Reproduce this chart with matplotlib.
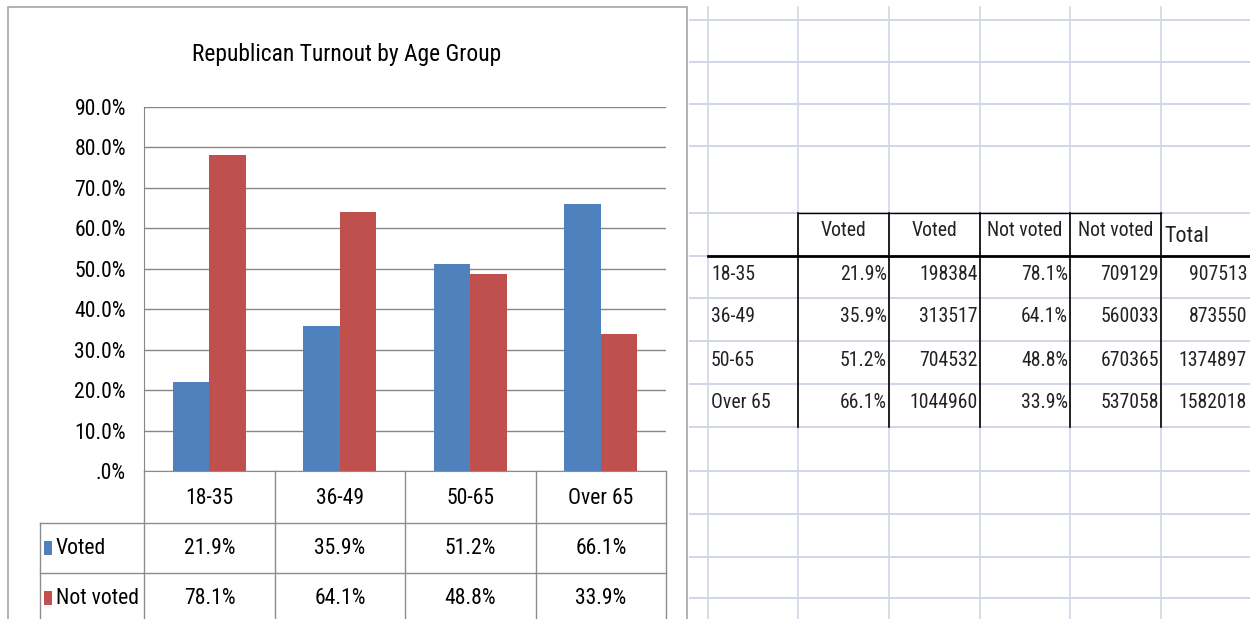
import matplotlib
matplotlib.use("Agg")
import matplotlib.pyplot as plt
from matplotlib import font_manager as fm
from matplotlib.patches import Rectangle
from matplotlib.ticker import FuncFormatter

# ---- data ----
age_groups = ["18-35", "36-49", "50-65", "Over 65"]
series_names = ["Voted", "Not voted"]
voted_pct = [21.9, 35.9, 51.2, 66.1]
not_voted_pct = [78.1, 64.1, 48.8, 33.9]
voted_count = [198384, 313517, 704532, 1044960]
not_voted_count = [709129, 560033, 670365, 537058]
total_count = [907513, 873550, 1374897, 1582018]
sheet_headers = ["Voted", "Voted", "Not voted", "Not voted"]
y_ticks = [0, 10, 20, 30, 40, 50, 60, 70, 80, 90]

BLUE = "#4F81BD"
RED = "#C0504D"
GRID = "#D0D7E5"
EDGE = "#8C8C8C"

# narrow fonts if there are any, otherwise the closest plain ones
available = {f.name for f in fm.fontManager.ttflist}
def pick(cands):
    for c in cands:
        if c in available:
            return c
    return "DejaVu Sans"

CHART_FONT = pick(["Liberation Sans Narrow", "Roboto Condensed", "Open Sans Condensed", "Lato", "Liberation Sans"])
SHEET_FONT = pick(["Liberation Sans Narrow", "Arial Narrow", "Roboto Condensed", "Liberation Sans"])
plt.rcParams["font.family"] = [CHART_FONT, "DejaVu Sans"]

W, H = 1250, 619
fig = plt.figure(figsize=(W / 100, H / 100), dpi=100)
fig.patch.set_facecolor("white")
renderer = fig.canvas.get_renderer()

def fit(sample, width_px, family):
    # font size that makes sample about width_px wide
    t = fig.text(0, 0, sample, fontsize=10, family=family)
    w = t.get_window_extent(renderer).width
    t.remove()
    return 10 * width_px / w

fs_title = fit("Republican Turnout by Age Group", 308, CHART_FONT)
fs_chart = fit("90.0%", 51, CHART_FONT)
fs_sheet = fit("1374897", 68, SHEET_FONT)

# background layer in pixel coordinates
bg = fig.add_axes([0, 0, 1, 1])
bg.set_xlim(0, W)
bg.set_ylim(H, 0)
bg.axis("off")

# spreadsheet gridlines
sheet_cols = [708, 798, 889, 980, 1070, 1161]
sheet_rows = [20, 62, 104, 146, 213, 256, 298, 341, 384, 427, 471, 514, 557, 598]
for x in sheet_cols:
    bg.plot([x, x], [7, H], color=GRID, lw=1.2, zorder=1)
for y in sheet_rows:
    bg.plot([690, W], [y, y], color=GRID, lw=1.4, zorder=1)

# spreadsheet table
tbl_top, tbl_head, tbl_bot = 213, 256, 427
bg.plot([798, 1161], [tbl_top, tbl_top], color="black", lw=1.0, zorder=2)
for x in sheet_cols[1:]:
    bg.plot([x, x], [tbl_top, tbl_bot], color="black", lw=1.2, zorder=2)
bg.plot([708, W], [tbl_head, tbl_head], color="black", lw=2.0, zorder=2)

for i, h in enumerate(sheet_headers):
    cx = (sheet_cols[i + 1] + sheet_cols[i + 2]) / 2
    bg.text(cx, 231, h, ha="center", va="center", fontsize=fs_sheet, family=SHEET_FONT, color="#222222")
bg.text(1164, 237, "Total", ha="left", va="center", fontsize=fs_sheet * 1.12, family=SHEET_FONT, color="#222222")

row_ys = [275, 317, 360, 403]
rights = sheet_cols[2:] + [W - 1]
for r, grp in enumerate(age_groups):
    y = row_ys[r]
    cells = [f"{voted_pct[r]:.1f}%", str(voted_count[r]),
             f"{not_voted_pct[r]:.1f}%", str(not_voted_count[r]),
             str(total_count[r])]
    bg.text(711, y, grp, ha="left", va="center", fontsize=fs_sheet, family=SHEET_FONT, color="#222222")
    for c, txt in enumerate(cells):
        bg.text(rights[c] - 2, y, txt, ha="right", va="center", fontsize=fs_sheet, family=SHEET_FONT, color="#222222")

# chart area box
bg.add_patch(Rectangle((8, 7), 679, H, facecolor="white", edgecolor="#A6A6A6", lw=1.2, zorder=3))
bg.text(347, 54, "Republican Turnout by Age Group", ha="center", va="center",
        fontsize=fs_title, color="black", zorder=4)

# data table under the plot
col_x = [144, 275, 405, 536, 666]
tab_rows = [471, 523, 573]
for y in tab_rows[1:]:
    bg.plot([40, 666], [y, y], color=EDGE, lw=1.0, zorder=4)
for x in col_x:
    bg.plot([x, x], [471, H], color=EDGE, lw=1.0, zorder=4)
bg.plot([40, 40], [523, H], color=EDGE, lw=1.0, zorder=4)

row_centers = [498, 549, 599]
for i, grp in enumerate(age_groups):
    cx = (col_x[i] + col_x[i + 1]) / 2
    bg.text(cx, row_centers[0], grp, ha="center", va="center", fontsize=fs_chart, zorder=5)
    bg.text(cx, row_centers[1], f"{voted_pct[i]:.1f}%", ha="center", va="center", fontsize=fs_chart, zorder=5)
    bg.text(cx, row_centers[2], f"{not_voted_pct[i]:.1f}%", ha="center", va="center", fontsize=fs_chart, zorder=5)

for name, color, yc in zip(series_names, [BLUE, RED], row_centers[1:]):
    bg.add_patch(Rectangle((44, yc - 8), 8, 14, facecolor=color, edgecolor="none", zorder=5))
    bg.text(56, yc - 1, name, ha="left", va="center", fontsize=fs_chart, zorder=5)

# ---- bar plot ----
ax = fig.add_axes([144 / W, 1 - 471 / H, 522 / W, 364 / H], zorder=6)
ax.set_facecolor("none")
x = range(len(age_groups))
bw = 0.28
ax.bar([i - bw / 2 for i in x], voted_pct, width=bw, color=BLUE, zorder=3, label=series_names[0])
ax.bar([i + bw / 2 for i in x], not_voted_pct, width=bw, color=RED, zorder=3, label=series_names[1])
ax.set_xlim(-0.5, len(age_groups) - 0.5)
ax.set_ylim(0, 90)
ax.set_yticks(y_ticks)
ax.yaxis.set_major_formatter(FuncFormatter(lambda v, p: ".0%" if v == 0 else f"{v:.1f}%"))
ax.tick_params(axis="y", length=0, pad=13, labelsize=fs_chart)
ax.set_xticks([])
ax.grid(axis="y", color="#868686", lw=1.0, zorder=0)
for s in ["top", "right"]:
    ax.spines[s].set_visible(False)
ax.spines["left"].set_color("#868686")
ax.spines["bottom"].set_color(EDGE)

fig.savefig("out.png", dpi=100)
